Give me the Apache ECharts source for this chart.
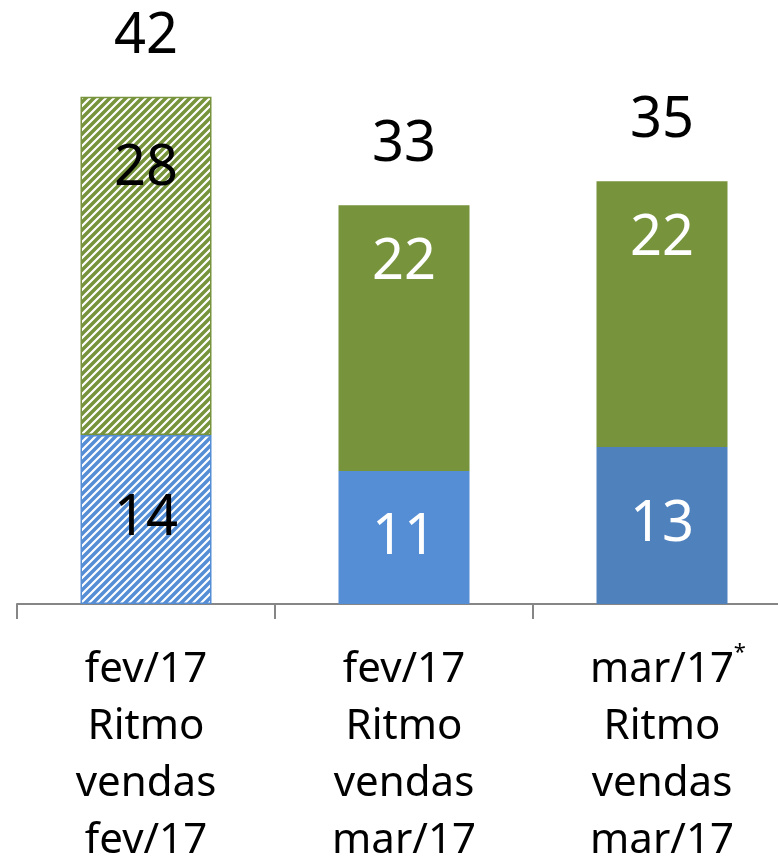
<!DOCTYPE html>
<html>
<head>
<meta charset="utf-8">
<script src="https://cdn.jsdelivr.net/npm/echarts@6/dist/echarts.min.js"></script>
<style>
  html, body { margin: 0; padding: 0; background: #fff; }
  #chart { width: 778px; height: 862px; }
</style>
</head>
<body>
<div id="chart"></div>
<script>
let categories = ['fev/17\nRitmo\nvendas\nfev/17', 'fev/17\nRitmo\nvendas\nmar/17', 'mar/17*\nRitmo\nvendas\nmar/17'];
let blueValues = [14, 11, 13];
let greenValues = [28, 22, 22];
let totals = [42, 33, 35];

// listras diagonais p/ primeira barra
let makeStripes = (color) => {
    let c = document.createElement('canvas');
    c.width = 8; c.height = 8;
    let ctx = c.getContext('2d');
    ctx.fillStyle = '#fff';
    ctx.fillRect(0, 0, 8, 8);
    ctx.strokeStyle = color;
    ctx.lineWidth = 3.5;
    ctx.beginPath();
    ctx.moveTo(-2, 10); ctx.lineTo(10, -2);
    ctx.moveTo(-6, 6); ctx.lineTo(6, -6);
    ctx.moveTo(2, 14); ctx.lineTo(14, 2);
    ctx.stroke();
    return c;
};

let blueColors = ['#558ed5', '#558ed5', '#4f81bd'];
let greenColor = '#77933c';
let font = 'Noto Sans';

let blueData = blueValues.map((v, i) => ({
    value: v,
    itemStyle: i === 0
        ? {color: {image: makeStripes('#558ed5'), repeat: 'repeat'}, borderColor: '#558ed5', borderWidth: 1.5}
        : {color: blueColors[i]},
    label: {color: i === 0 ? '#000' : '#fff'}
}));

let greenData = greenValues.map((v, i) => ({
    value: v,
    itemStyle: i === 0
        ? {color: {image: makeStripes(greenColor), repeat: 'repeat'}, borderColor: greenColor, borderWidth: 1.5}
        : {color: greenColor},
    label: {color: i === 0 ? '#000' : '#fff', distance: i === 0 ? 44 : 30}
}));

var myChart = echarts.init(document.getElementById('chart'));

option = {
    animation: false,
    grid: {left: 17, top: 0, width: 774, height: 604, containLabel: false, outerBoundsMode: 'none'},
    xAxis: {
        type: 'category',
        data: categories,
        axisLine: {lineStyle: {color: '#868686', width: 2}},
        axisTick: {show: true, alignWithLabel: false, length: 15, lineStyle: {color: '#868686', width: 2}},
        axisLabel: {
            interval: 0,
            margin: 38,
            fontFamily: font,
            fontSize: 42,
            lineHeight: 57,
            color: '#000',
            formatter: (val) => val.replace('*', '{sup|*}').replace(/^([^\n]*\{sup)/, '{sp|}$1'),
            rich: {
                sup: {fontSize: 22, fontFamily: font, color: '#000', verticalAlign: 'top', lineHeight: 57, width: 12, padding: [0, 0, 22, 0]},
                sp: {width: 12, fontSize: 22}
            }
        }
    },
    yAxis: {
        type: 'value',
        min: 0,
        max: 50,
        show: false,
        splitLine: {show: false}
    },
    series: [
        {
            name: 'blue',
            type: 'bar',
            stack: 'total',
            barWidth: 131,
            data: blueData,
            label: {show: true, position: 'inside', fontFamily: font, fontSize: 56}
        },
        {
            name: 'green',
            type: 'bar',
            stack: 'total',
            barWidth: 131,
            data: greenData,
            label: {show: true, position: 'insideTop', fontFamily: font, fontSize: 56}
        },
        {
            name: 'totals',
            type: 'scatter',
            data: totals,
            symbolSize: 0,
            itemStyle: {opacity: 1},
            label: {show: true, position: 'top', distance: 32, fontFamily: font, fontSize: 56, color: '#000', opacity: 1}
        }
    ]
};

myChart.setOption(option);
</script>
</body>
</html>
